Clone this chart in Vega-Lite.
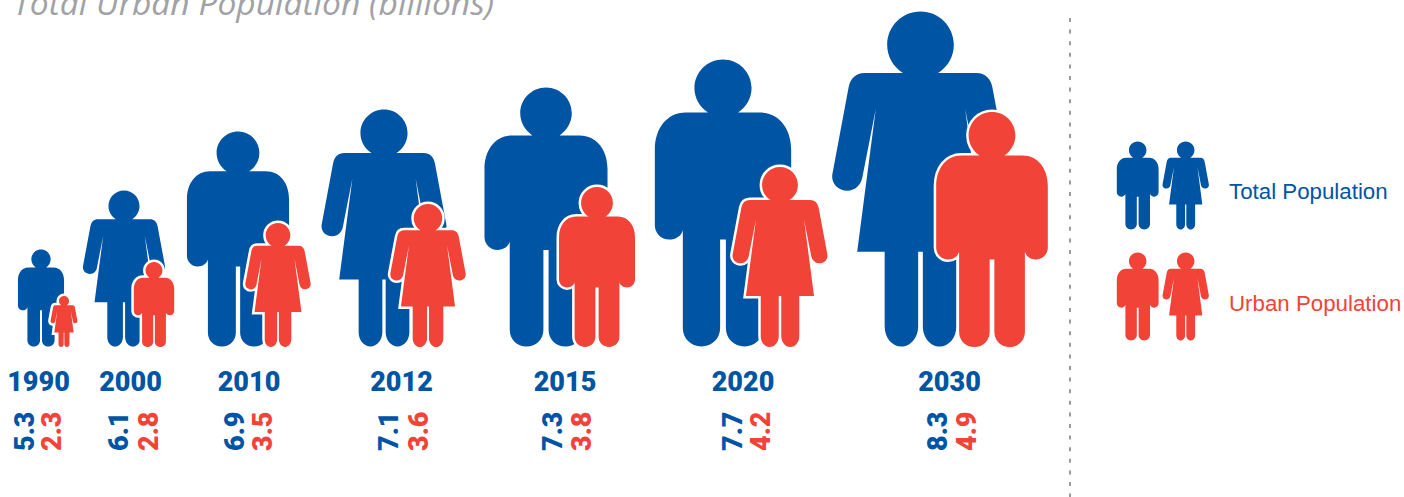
{
"$schema":"https://vega.github.io/schema/vega-lite/v6.json",
"width":1404,"height":497,"autosize":{"type":"none"},"padding":0,"background":"white",
"config":{"view":{"stroke":null}},
"datasets":{
"pop":[
{"year":1990,"series":"Total Population","value":5.3,"figure":"man"},
{"year":2000,"series":"Total Population","value":6.1,"figure":"woman"},
{"year":2010,"series":"Total Population","value":6.9,"figure":"man"},
{"year":2012,"series":"Total Population","value":7.1,"figure":"woman"},
{"year":2015,"series":"Total Population","value":7.3,"figure":"man"},
{"year":2020,"series":"Total Population","value":7.7,"figure":"man"},
{"year":2030,"series":"Total Population","value":8.3,"figure":"woman"},
{"year":1990,"series":"Urban Population","value":2.3,"figure":"woman"},
{"year":2000,"series":"Urban Population","value":2.8,"figure":"man"},
{"year":2010,"series":"Urban Population","value":3.5,"figure":"woman"},
{"year":2012,"series":"Urban Population","value":3.6,"figure":"woman"},
{"year":2015,"series":"Urban Population","value":3.8,"figure":"man"},
{"year":2020,"series":"Urban Population","value":4.2,"figure":"woman"},
{"year":2030,"series":"Urban Population","value":4.9,"figure":"man"}
],
"key":[
{"series":"Total Population","figure":"man"},
{"series":"Total Population","figure":"woman"},
{"series":"Urban Population","figure":"man"},
{"series":"Urban Population","figure":"woman"}
],
"keyLabels":[{"series":"Total Population"},{"series":"Urban Population"}]
},
"resolve":{"scale":{"x":"independent","y":"independent","size":"independent"}},
"encoding":{
"color":{"field":"series","type":"nominal","legend":null,"scale":{"domain":["Total Population","Urban Population"],"range":["#0054A4","#F24338"]}}
},
"layer":[
{"data":{"name":"pop"},"transform":[{"filter":"datum.series==='Total Population'"}],
"mark":{"type":"point","filled":true,"opacity":1},
"encoding":{
"x":{"field":"year","type":"quantitative","axis":null,"scale":{"zero":false,"nice":false,"domain":[1990,2000,2010,2012,2015,2020,2030],"range":[41,124,238,384,546,723,920.5]}},
"y":{"datum":0,"type":"quantitative","axis":null,"scale":{"domain":[0,1],"range":[346.5,0]}},
"size":{"field":"value","type":"quantitative","legend":null,"scale":{"zero":false,"domain":[5.3,6.1,6.9,7.1,7.3,7.7,8.3],"range":[9409,24336,46225,56169,67081,82369,112225]}},
"shape":{"field":"figure","type":"nominal","legend":null,"scale":{"domain":["man","woman"],"range":[
"M-.105 -1.63C-.163 -1.669 -.199 -1.732 -.199 -1.801C-.199 -1.911 -.11 -2 0 -2C.11 -2 .199 -1.911 .199 -1.801C.199 -1.732 .163 -1.669 .105 -1.63L.26 -1.63C.39 -1.63 .475 -1.52 .475 -1.37L.475 -.845C.475 -.79 .43 -.745 .375 -.745C.33 -.745 .29 -.77 .28 -.81L.28 -.13C.28 -.055 .225 0 .15 0C.075 0 .02 -.055 .02 -.13L.02 -.745L-.02 -.745L-.02 -.13C-.02 -.055 -.075 0 -.15 0C-.225 0 -.28 -.055 -.28 -.13L-.28 -.81C-.29 -.77 -.33 -.745 -.375 -.745C-.43 -.745 -.475 -.79 -.475 -.845L-.475 -1.37C-.475 -1.52 -.39 -1.63 -.26 -1.63Z",
"M-.105 -1.633C-.163 -1.669 -.199 -1.732 -.199 -1.801C-.199 -1.911 -.11 -2 0 -2C.11 -2 .199 -1.911 .199 -1.801C.199 -1.732 .163 -1.669 .105 -1.633L.335 -1.633C.385 -1.633 .42 -1.6 .43 -1.544L.526 -1.03C.535 -.975 .495 -.93 .436 -.93C.39 -.93 .355 -.965 .347 -1.01L.267 -1.418L.378 -.566L.214 -.566L.214 -.12C.214 -.055 .17 0 .114 0C.06 0 .014 -.055 .014 -.12L.014 -.566L-.014 -.566L-.014 -.12C-.014 -.055 -.06 0 -.114 0C-.17 0 -.214 -.055 -.214 -.12L-.214 -.566L-.378 -.566L-.267 -1.418L-.347 -1.01C-.355 -.965 -.39 -.93 -.436 -.93C-.495 -.93 -.535 -.975 -.526 -1.03L-.43 -1.544C-.42 -1.6 -.385 -1.633 -.335 -1.633Z"
]}}
}},
{"data":{"name":"pop"},"transform":[{"filter":"datum.series==='Urban Population'"}],
"mark":{"type":"point","filled":true,"opacity":1,"strokeWidth":5,"strokeOpacity":1},
"encoding":{
"color":{"value":"white"},
"stroke":{"value":"white"},
"x":{"field":"year","type":"quantitative","axis":null,"scale":{"zero":false,"nice":false,"domain":[1990,2000,2010,2012,2015,2020,2030],"range":[64,154,278,428,597,780,992]}},
"y":{"datum":0,"type":"quantitative","axis":null,"scale":{"domain":[0,1],"range":[347,0]}},
"size":{"field":"value","type":"quantitative","legend":null,"scale":{"zero":false,"domain":[2.3,2.8,3.5,3.6,3.8,4.2,4.9],"range":[2601,7225,15376,20449,25600,32400,55225]}},
"shape":{"field":"figure","type":"nominal","legend":null,"scale":{"domain":["man","woman"]}}
}},
{"data":{"name":"pop"},"transform":[{"filter":"datum.series==='Urban Population'"}],
"mark":{"type":"point","filled":true,"opacity":1},
"encoding":{
"x":{"field":"year","type":"quantitative","axis":null,"scale":{"zero":false,"nice":false,"domain":[1990,2000,2010,2012,2015,2020,2030],"range":[64,154,278,428,597,780,992]}},
"y":{"datum":0,"type":"quantitative","axis":null,"scale":{"domain":[0,1],"range":[347,0]}},
"size":{"field":"value","type":"quantitative","legend":null,"scale":{"zero":false,"domain":[2.3,2.8,3.5,3.6,3.8,4.2,4.9],"range":[2601,7225,15376,20449,25600,32400,55225]}},
"shape":{"field":"figure","type":"nominal","legend":null,"scale":{"domain":["man","woman"]}}
}},
{"data":{"name":"key"},
"mark":{"type":"point","filled":true,"opacity":1},
"encoding":{
"x":{"field":"figure","type":"nominal","axis":null,"scale":{"type":"point","padding":0,"domain":["man","woman"],"range":[1137.7,1185.7]}},
"y":{"field":"series","type":"nominal","axis":null,"scale":{"type":"point","padding":0,"domain":["Total Population","Urban Population"],"range":[229.5,340.5]}},
"size":{"value":7744},
"shape":{"field":"figure","type":"nominal","legend":null,"scale":{"domain":["man","woman"]}}
}},
{"data":{"name":"keyLabels"},
"mark":{"type":"text","align":"left","baseline":"alphabetic","font":"Liberation Sans","fontSize":22.3},
"encoding":{
"x":{"datum":1229,"type":"quantitative","axis":null,"scale":{"domain":[0,1404],"range":[0,1404]}},
"y":{"field":"series","type":"nominal","axis":null,"scale":{"type":"point","padding":0,"domain":["Total Population","Urban Population"],"range":[199,311]}},
"text":{"field":"series"}
}},
{"data":{"name":"pop"},"transform":[{"filter":"datum.series==='Total Population'"}],
"mark":{"type":"text","align":"center","baseline":"alphabetic","font":"Roboto","fontWeight":900,"fontSize":27},
"encoding":{
"color":{"value":"#0054A4"},
"x":{"field":"year","type":"quantitative","axis":null,"scale":{"zero":false,"nice":false,"domain":[1990,2000,2010,2012,2015,2020,2030],"range":[38.5,130.5,249,401.5,565,743,949.5]}},
"y":{"datum":391,"type":"quantitative","axis":null,"scale":{"domain":[0,497],"range":[0,497]}},
"text":{"field":"year","type":"nominal"}
}},
{"data":{"name":"pop"},"transform":[{"filter":"datum.series==='Total Population'"}],
"mark":{"type":"text","align":"left","baseline":"alphabetic","angle":270,"font":"Roboto","fontWeight":900,"fontSize":27},
"encoding":{
"x":{"field":"year","type":"quantitative","axis":null,"scale":{"zero":false,"nice":false,"domain":[1990,2000,2010,2012,2015,2020,2030],"range":[34,128,244,398,562,742,947]}},
"y":{"datum":451,"type":"quantitative","axis":null,"scale":{"domain":[0,497],"range":[0,497]}},
"text":{"field":"value","type":"quantitative","format":".1f"}
}},
{"data":{"name":"pop"},"transform":[{"filter":"datum.series==='Urban Population'"}],
"mark":{"type":"text","align":"left","baseline":"alphabetic","angle":270,"font":"Roboto","fontWeight":900,"fontSize":27},
"encoding":{
"x":{"field":"year","type":"quantitative","axis":null,"scale":{"zero":false,"nice":false,"domain":[1990,2000,2010,2012,2015,2020,2030],"range":[61,158,272,428,591,770,976]}},
"y":{"datum":451,"type":"quantitative","axis":null,"scale":{"domain":[0,497],"range":[0,497]}},
"text":{"field":"value","type":"quantitative","format":".1f"}
}},
{"data":{"values":[{"note":"Total Urban Population (billions)"}]},
"mark":{"type":"text","align":"left","baseline":"alphabetic","font":"Open Sans","fontStyle":"italic","fontSize":33.6},
"encoding":{
"color":{"value":"#A0A2A6"},
"x":{"datum":13,"type":"quantitative","axis":null,"scale":{"domain":[0,1404],"range":[0,1404]}},
"y":{"datum":15,"type":"quantitative","axis":null,"scale":{"domain":[0,497],"range":[0,497]}},
"text":{"field":"note"}
}},
{"data":{"values":[{"divider":1070}]},
"mark":{"type":"rule","strokeWidth":2,"strokeDash":[4,7.6]},
"encoding":{
"color":{"value":"#9A9A9A"},
"x":{"field":"divider","type":"quantitative","axis":null,"scale":{"domain":[0,1404],"range":[0,1404]}},
"y":{"datum":18,"type":"quantitative","axis":null,"scale":{"domain":[0,497],"range":[0,497]}},
"y2":{"datum":497}
}}
]
}
